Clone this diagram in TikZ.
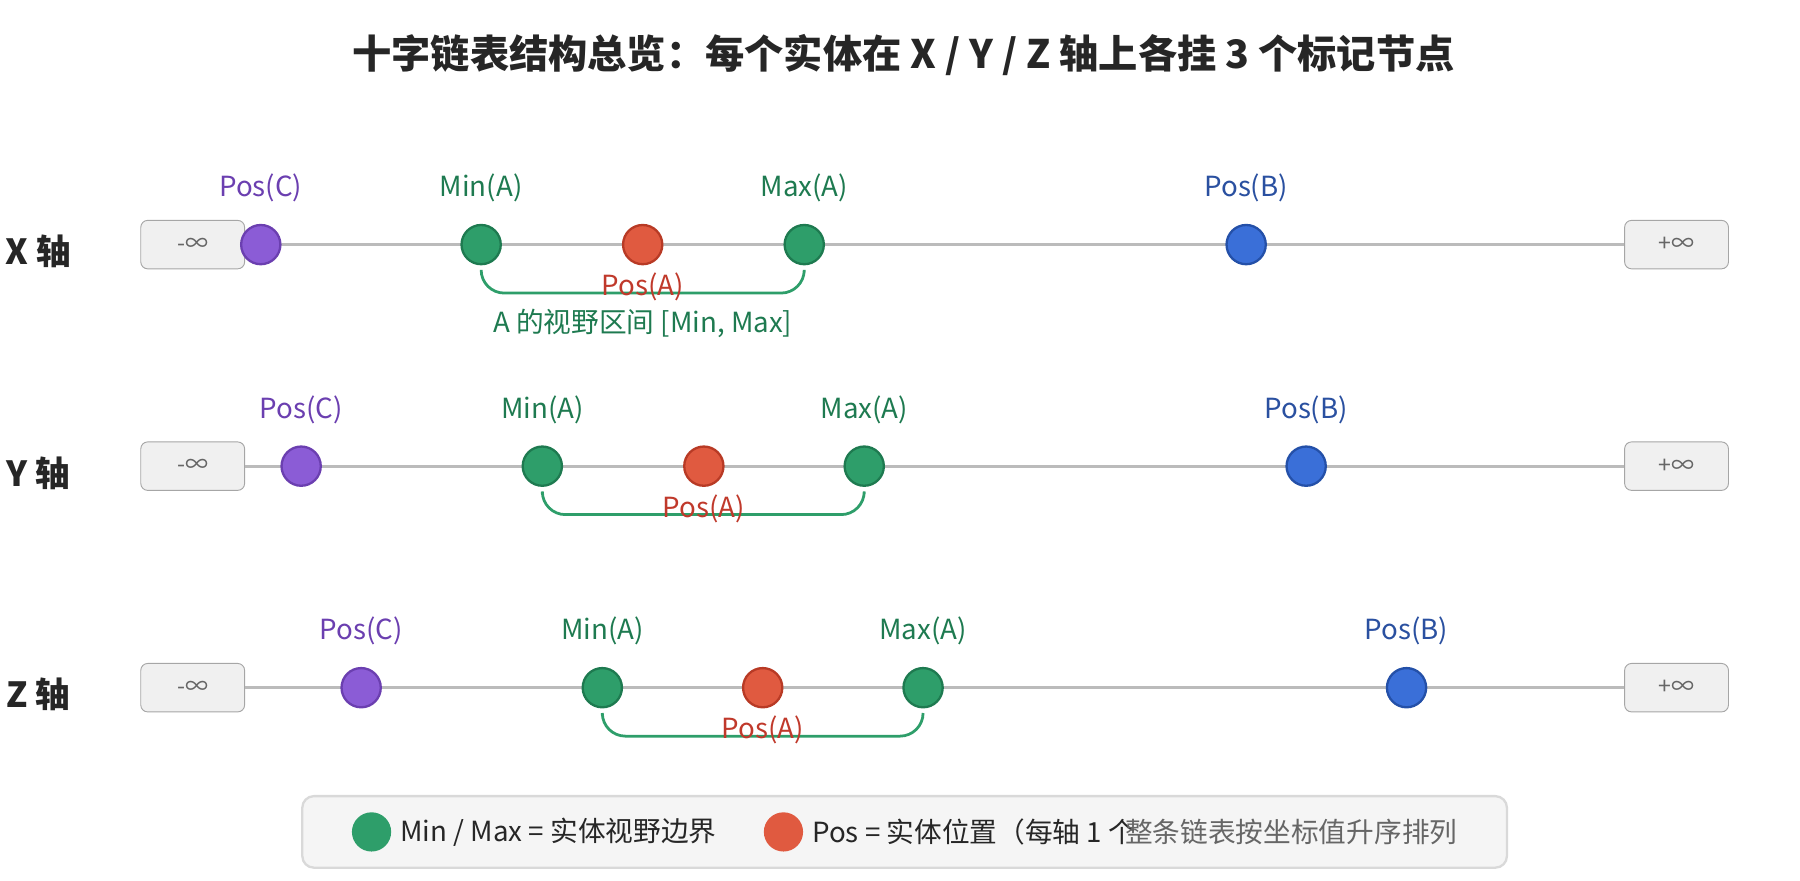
\documentclass[tikz,border=0pt]{standalone}
\usepackage{fontspec}
\setmainfont{Noto Sans CJK SC}
\definecolor{lineGray}{HTML}{BBBBBB}
\definecolor{cFill}{HTML}{8B5CD6}\definecolor{cDraw}{HTML}{6B3FB0}
\definecolor{gFill}{HTML}{2E9E6A}\definecolor{gDraw}{HTML}{1E7A50}
\definecolor{rFill}{HTML}{E05A40}\definecolor{rDraw}{HTML}{B83A25}\definecolor{rText}{HTML}{C0392B}
\definecolor{bFill}{HTML}{3A6FD8}\definecolor{bDraw}{HTML}{2450A8}\definecolor{bText}{HTML}{2A50A0}
\tikzset{
  dot/.style={circle, minimum size=17pt, inner sep=0pt, line width=1pt},
  endbox/.style={draw=black!35, fill=black!6, rounded corners=3pt, minimum width=45pt, minimum height=21pt, font=\fontsize{10}{11}\selectfont, text=black!60},
  lbl/.style={font=\fontsize{12}{14}\selectfont},
}
\begin{document}
\begin{tikzpicture}[x=0.5pt, y=-0.5pt]
\useasboundingbox (0,0) rectangle (1560,763);
\node[font=\fontsize{17}{19}\selectfont\bfseries, text=black!85] (title) at (783,48) {十字链表结构总览：每个实体在 X / Y / Z 轴上各挂 3 个标记节点};
% axis rows: name/y/C/Min/PosA/Max/B
\foreach \ax/\y/\xc/\xmin/\xa/\xmax/\xb in {X/212/226/417/557/697/1080, Y/404/261/470/610/749/1132, Z/596/313/522/661/800/1219}{
  \node[font=\fontsize{15}{17}\selectfont\bfseries, text=black!85] (name\ax) at (33,\y+6) {\ax{} 轴};
  \node[endbox] (lo\ax) at (167,\y) {-∞};
  \node[endbox] (hi\ax) at (1453,\y) {+∞};
  \draw[lineGray, line width=1.2pt] (lo\ax) -- (hi\ax);
  \node[dot, fill=cFill, draw=cDraw] (c\ax) at (\xc,\y) {};
  \node[dot, fill=gFill, draw=gDraw] (min\ax) at (\xmin,\y) {};
  \node[dot, fill=rFill, draw=rDraw] (a\ax) at (\xa,\y) {};
  \node[dot, fill=gFill, draw=gDraw] (max\ax) at (\xmax,\y) {};
  \node[dot, fill=bFill, draw=bDraw] (b\ax) at (\xb,\y) {};
  \node[lbl, text=cDraw] at (\xc,\y-49) {Pos(C)};
  \node[lbl, text=gDraw] at (\xmin,\y-49) {Min(A)};
  \node[lbl, text=gDraw] at (\xmax,\y-49) {Max(A)};
  \node[lbl, text=bText] at (\xb,\y-49) {Pos(B)};
  \draw[gFill, line width=1.2pt, rounded corners=10pt] ([yshift=-3pt]min\ax.south) -- ++(0,18) -| ([yshift=-3pt]max\ax.south);
  \node[lbl, text=rText] at (\xa,\y+37) {Pos(A)};
}
\node[lbl, text=gDraw] (range) at (557,280) {A 的视野区间 [Min, Max]};
% legend
\node[draw=black!15, fill=black!4, rounded corners=5pt, line width=1pt, minimum width=522pt, minimum height=31pt] (legend) at (784,721) {};
\node[dot, fill=gFill] (lgG) at (322,721) {};
\node[lbl, anchor=west, text=black!85] (lgGt) at (340,721) {Min / Max = 实体视野边界};
\node[dot, fill=rFill] (lgR) at (679,721) {};
\node[lbl, anchor=west, text=black!85] (lgRt) at (697,721) {Pos = 实体位置（每轴 1 个};
\node[lbl, anchor=west, text=black!60] (lgNote) at (968,721) {整条链表按坐标值升序排列};
\end{tikzpicture}
\end{document}
